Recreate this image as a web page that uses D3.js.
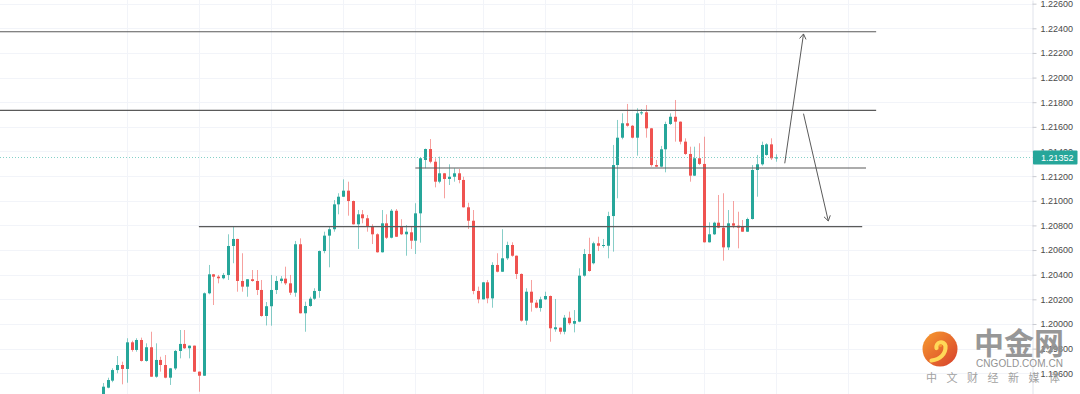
<!DOCTYPE html>
<html><head><meta charset="utf-8">
<script src="https://cdn.jsdelivr.net/npm/d3@7"></script>
<style>html,body{margin:0;padding:0;background:#fff;overflow:hidden}svg{display:block}</style>
</head><body>
<svg id="chart" width="1080" height="394"></svg>
<script>
// ---- data (EUR/USD style candles) ----
const open = [1.19407,1.19483,1.19540,1.19626,1.19667,1.19635,1.19851,1.19789,1.19870,1.19700,
1.19811,1.19572,1.19708,1.19667,1.19564,1.19639,1.19781,1.19838,1.19803,1.19824,
1.19613,1.19580,1.20249,1.20403,1.20384,1.20371,1.20398,1.20633,1.20690,1.20349,
1.20303,1.20363,1.20349,1.20276,1.20065,1.20144,1.20276,1.20349,1.20368,1.20330,
1.20254,1.20647,1.20087,1.20146,1.20205,1.20268,1.20592,1.20717,1.20769,1.20971,
1.21033,1.21082,1.20998,1.20809,1.20890,1.20858,1.20795,1.20728,1.20582,1.20817,
1.20700,1.20919,1.20790,1.20728,1.20744,1.20676,1.20898,1.21331,1.21420,1.21317,
1.21155,1.21223,1.21177,1.21195,1.21223,1.21169,1.20947,1.20838,1.20268,1.20200,
1.20338,1.20208,1.20479,1.20424,1.20533,1.20641,1.20554,1.20406,1.20027,1.20262,
1.20173,1.20130,1.20200,1.20227,1.19957,1.19970,1.19937,1.20051,1.20002,1.20019,
1.20392,1.20568,1.20493,1.20655,1.20633,1.20635,1.20876,1.21290,1.21512,1.21629,
1.21609,1.21512,1.21710,1.21718,1.21588,1.21290,1.21277,1.21418,1.21623,1.21682,
1.21642,1.21480,1.21380,1.21204,1.21345,1.21299,1.20663,1.20728,1.20822,1.20782,
1.20622,1.20817,1.20798,1.20790,1.20749,1.20852,1.21250,1.21296,1.21372,1.21458,
1.21345];
const high = [1.19521,1.19564,1.19640,1.19740,1.19694,1.19884,1.19864,1.19884,1.19889,1.19843,
1.19937,1.19843,1.19734,1.19748,1.19643,1.19789,1.19951,1.19951,1.19825,1.19825,
1.19614,1.20256,1.20479,1.20406,1.20398,1.20414,1.20728,1.20795,1.20692,1.20574,
1.20365,1.20438,1.20438,1.20357,1.20178,1.20398,1.20389,1.20389,1.20465,1.20398,
1.20674,1.20695,1.20181,1.20221,1.20290,1.20596,1.20749,1.20790,1.21006,1.21061,
1.21174,1.21155,1.21002,1.20925,1.20925,1.20885,1.20809,1.20736,1.20925,1.20890,
1.20933,1.20933,1.20850,1.20803,1.20790,1.20980,1.21355,1.21424,1.21501,1.21345,
1.21358,1.21226,1.21296,1.21264,1.21258,1.21195,1.20984,1.20925,1.20303,1.20341,
1.20357,1.20501,1.20574,1.20769,1.20668,1.20663,1.20556,1.20410,1.20290,1.20357,
1.20195,1.20221,1.20262,1.20231,1.20203,1.19971,1.20073,1.20100,1.20113,1.20452,
1.20609,1.20700,1.20668,1.20708,1.20690,1.20911,1.21453,1.21656,1.21710,1.21786,
1.21615,1.21751,1.21745,1.21777,1.21591,1.21331,1.21445,1.21642,1.21710,1.21818,
1.21644,1.21507,1.21439,1.21439,1.21467,1.21520,1.20825,1.20830,1.21047,1.21061,
1.20925,1.20998,1.20911,1.20844,1.20863,1.21290,1.21372,1.21480,1.21467,1.21507,
1.21377];
const low = [1.19391,1.19478,1.19527,1.19600,1.19510,1.19523,1.19775,1.19775,1.19695,1.19694,
1.19570,1.19564,1.19613,1.19559,1.19505,1.19626,1.19721,1.19797,1.19721,1.19610,
1.19450,1.19578,1.20241,1.20154,1.20330,1.20363,1.20357,1.20493,1.20262,1.20262,
1.20221,1.20343,1.20235,1.20059,1.19988,1.19986,1.20243,1.20330,1.20316,1.20235,
1.20221,1.20085,1.19937,1.20140,1.20195,1.20213,1.20574,1.20460,1.20749,1.20890,
1.21031,1.20879,1.20807,1.20609,1.20817,1.20749,1.20649,1.20579,1.20580,1.20690,
1.20695,1.20706,1.20722,1.20554,1.20609,1.20568,1.20660,1.21264,1.21304,1.21109,
1.21142,1.21020,1.21128,1.21155,1.21142,1.20945,1.20771,1.20241,1.20168,1.20199,
1.20168,1.20132,1.20419,1.20422,1.20519,1.20546,1.20365,1.20019,1.19992,1.20100,
1.20127,1.20100,1.20195,1.19856,1.19937,1.19916,1.19916,1.19992,1.19932,1.20014,
1.20384,1.20424,1.20484,1.20592,1.20619,1.20533,1.20587,1.21020,1.21499,1.21601,
1.21507,1.21366,1.21696,1.21512,1.21277,1.21274,1.21272,1.21231,1.21615,1.21480,
1.21458,1.21372,1.21155,1.21201,1.21290,1.20661,1.20661,1.20722,1.20777,1.20514,
1.20600,1.20777,1.20614,1.20747,1.20747,1.20848,1.21033,1.21285,1.21366,1.21331,
1.21317];
const close = [1.19491,1.19545,1.19626,1.19667,1.19635,1.19851,1.19789,1.19870,1.19700,1.19811,
1.19572,1.19708,1.19667,1.19564,1.19640,1.19781,1.19838,1.19803,1.19824,1.19613,
1.19580,1.20249,1.20403,1.20384,1.20371,1.20398,1.20633,1.20690,1.20349,1.20303,
1.20363,1.20349,1.20276,1.20065,1.20144,1.20276,1.20349,1.20368,1.20330,1.20254,
1.20647,1.20087,1.20146,1.20205,1.20268,1.20592,1.20717,1.20769,1.20971,1.21033,
1.21082,1.20998,1.20809,1.20890,1.20858,1.20795,1.20728,1.20582,1.20817,1.20700,
1.20919,1.20708,1.20728,1.20749,1.20676,1.20898,1.21345,1.21420,1.21317,1.21155,
1.21223,1.21177,1.21195,1.21223,1.21169,1.20947,1.20838,1.20268,1.20200,1.20338,
1.20208,1.20479,1.20424,1.20533,1.20641,1.20554,1.20406,1.20027,1.20262,1.20173,
1.20132,1.20200,1.20227,1.19965,1.19973,1.19937,1.20051,1.20006,1.20024,1.20392,
1.20568,1.20430,1.20655,1.20635,1.20641,1.20876,1.21290,1.21512,1.21629,1.21609,
1.21512,1.21710,1.21718,1.21588,1.21290,1.21277,1.21418,1.21623,1.21682,1.21642,
1.21480,1.21380,1.21204,1.21345,1.21299,1.20663,1.20728,1.20822,1.20782,1.20622,
1.20817,1.20798,1.20782,1.20749,1.20852,1.21250,1.21296,1.21453,1.21458,1.21345,
1.21352];

const priceTicks = [1.196,1.198,1.200,1.202,1.204,1.206,1.208,1.210,1.212,1.214,1.216,1.218,1.220,1.222,1.224,1.226];
const lastPrice = 1.21352;
const timeGridIdx = [5,20,35,50,65,79,92,110,125,140,155];

// drawn horizontal levels (price, start bar index, end bar index)
const levelPrice = [1.22372, 1.21734, 1.21266, 1.20790];
const levelFrom  = [-22, -22, 65, 20];
const levelTo    = [160.8, 160.8, 158.7, 157.9];
// drawn arrows [bar index, price] -> [bar index, price]
const arrowFrom = [[141.8, 1.21304], [145.7, 1.21707]];
const arrowTo   = [[145.7, 1.22354], [150.85, 1.20836]];

// ---- scales ----
const W = 1080, H = 394, plotR = 1032.5;
const x = d3.scaleLinear().domain([-21.35, 193.41]).range([0, 1033]);
const y = d3.scaleLinear().domain([1.194316, 1.226297]).range([H, 0]);
const UP = "#26a69a", DN = "#ef5350";

const svg = d3.select("#chart");
svg.append("rect").attr("width", W).attr("height", H).attr("fill", "#fff");

const plot = svg.append("g");
// grid
plot.selectAll("line.hg").data(priceTicks).join("line")
  .attr("x1", 0).attr("x2", plotR).attr("y1", d => Math.round(y(d)) + 0.5).attr("y2", d => Math.round(y(d)) + 0.5)
  .attr("stroke", "#f2f4f9").attr("stroke-width", 1);
plot.selectAll("line.vg").data(timeGridIdx).join("line")
  .attr("x1", d => Math.round(x(d)) + 0.5).attr("x2", d => Math.round(x(d)) + 0.5).attr("y1", 0).attr("y2", H)
  .attr("stroke", "#f2f4f9").attr("stroke-width", 1);

// candles
const bars = open.map((o, i) => ({i, o, h: high[i], l: low[i], c: close[i]}));
const cg = plot.append("g");
cg.selectAll("line.wick").data(bars).join("line")
  .attr("x1", d => Math.round(x(d.i)) + 0.5).attr("x2", d => Math.round(x(d.i)) + 0.5)
  .attr("y1", d => y(d.h)).attr("y2", d => y(d.l))
  .attr("stroke", d => d.c >= d.o ? UP : DN).attr("stroke-opacity", 0.55).attr("stroke-width", 1);
cg.selectAll("rect.body").data(bars).join("rect")
  .attr("x", d => Math.round(x(d.i)) - 1).attr("width", 3)
  .attr("y", d => y(Math.max(d.o, d.c)))
  .attr("height", d => Math.max(1, Math.abs(y(d.o) - y(d.c))))
  .attr("fill", d => d.c >= d.o ? UP : DN);

// current price line
plot.append("line").attr("x1", 0).attr("x2", plotR)
  .attr("y1", Math.round(y(lastPrice)) + 0.5).attr("y2", Math.round(y(lastPrice)) + 0.5)
  .attr("stroke", "#5cc2b6").attr("stroke-width", 1).attr("stroke-dasharray", "1,2").attr("stroke-opacity", 0.75);

// drawings: levels
plot.selectAll("line.lvl").data(levelPrice).join("line")
  .attr("x1", (d, k) => x(levelFrom[k])).attr("x2", (d, k) => x(levelTo[k]))
  .attr("y1", d => y(d)).attr("y2", d => y(d))
  .attr("stroke", "#5a5a5a").attr("stroke-width", 1.1);

// drawings: arrows
arrowFrom.forEach((f, k) => {
  const t = arrowTo[k];
  const x1 = x(f[0]), y1 = y(f[1]), x2 = x(t[0]), y2 = y(t[1]);
  plot.append("line").attr("x1", x1).attr("y1", y1).attr("x2", x2).attr("y2", y2)
    .attr("stroke", "#5a5a5a").attr("stroke-width", 1);
  const ang = Math.atan2(y2 - y1, x2 - x1), L = 6, sp = Math.PI / 5.5;
  [ang + Math.PI - sp, ang + Math.PI + sp].forEach(a => {
    plot.append("line").attr("x1", x2).attr("y1", y2)
      .attr("x2", x2 + L * Math.cos(a)).attr("y2", y2 + L * Math.sin(a))
      .attr("stroke", "#5a5a5a").attr("stroke-width", 1);
  });
});

// right price axis
const axisG = svg.append("g").attr("transform", `translate(${plotR},0)`)
  .call(d3.axisRight(y).tickValues(priceTicks).tickSize(4).tickSizeOuter(0).tickPadding(4)
    .tickFormat(d => d.toFixed(5)));
axisG.select(".domain").attr("stroke", "#e0e3eb");
axisG.selectAll(".tick line").attr("stroke", "#c8cad0");
axisG.selectAll(".tick text").attr("fill", "#4a4a4a")
  .style("font-family", "'Liberation Sans', Arial, sans-serif").style("font-size", "9px");

// last price label
const lp = svg.append("g");
lp.append("rect").attr("x", plotR + 0.5).attr("y", y(lastPrice) - 7).attr("width", 44.5).attr("height", 14)
  .attr("fill", UP).attr("rx", 1);
lp.append("text").attr("x", plotR + 8.5).attr("y", y(lastPrice)).attr("dy", "0.35em")
  .attr("fill", "#fff").style("font-family", "'Liberation Sans', Arial, sans-serif").style("font-size", "9px")
  .text(lastPrice.toFixed(5));

// watermark
const wm = svg.append("g").attr("opacity", 0.92);
const defs = svg.append("defs");
const gr = defs.append("linearGradient").attr("id", "lg").attr("x1", "0").attr("y1", "0").attr("x2", "1").attr("y2", "1");
gr.append("stop").attr("offset", "0").attr("stop-color", "#f7941d");
gr.append("stop").attr("offset", "1").attr("stop-color", "#d42f1c");
wm.append("circle").attr("cx", 940).attr("cy", 349).attr("r", 17.5).attr("fill", "url(#lg)");
wm.append("path").attr("d", "M936.5,348 A4.3,4.3 0 1 1 945.5,346 C946,354 940,359.5 931.5,360.5")
  .attr("fill", "none").attr("stroke", "#ffd54a").attr("stroke-width", 4.2).attr("stroke-linecap", "round");
wm.append("circle").attr("cx", 940.5).attr("cy", 345.5).attr("r", 1.6).attr("fill", "#f7941d");
wm.append("text").attr("x", 974).attr("y", 354).text("中金网")
  .attr("fill", "#8f8f8f").style("font-family", "'Noto Sans CJK SC', sans-serif").style("font-weight", 700)
  .style("font-size", "30px");
wm.append("text").attr("x", 976).attr("y", 366.5).text("CNGOLD.COM.CN")
  .attr("fill", "#8a8a8a").style("font-family", "'Liberation Sans', Arial, sans-serif").style("font-size", "10px")
  .attr("textLength", 87).attr("lengthAdjust", "spacing");
wm.append("text").attr("x", 926).attr("y", 381.5).text("中文财经新媒体")
  .attr("fill", "#9a9a9a").style("font-family", "'Noto Sans CJK SC', sans-serif").style("font-size", "11px")
  .attr("textLength", 134).attr("lengthAdjust", "spacing");
</script>
</body></html>
